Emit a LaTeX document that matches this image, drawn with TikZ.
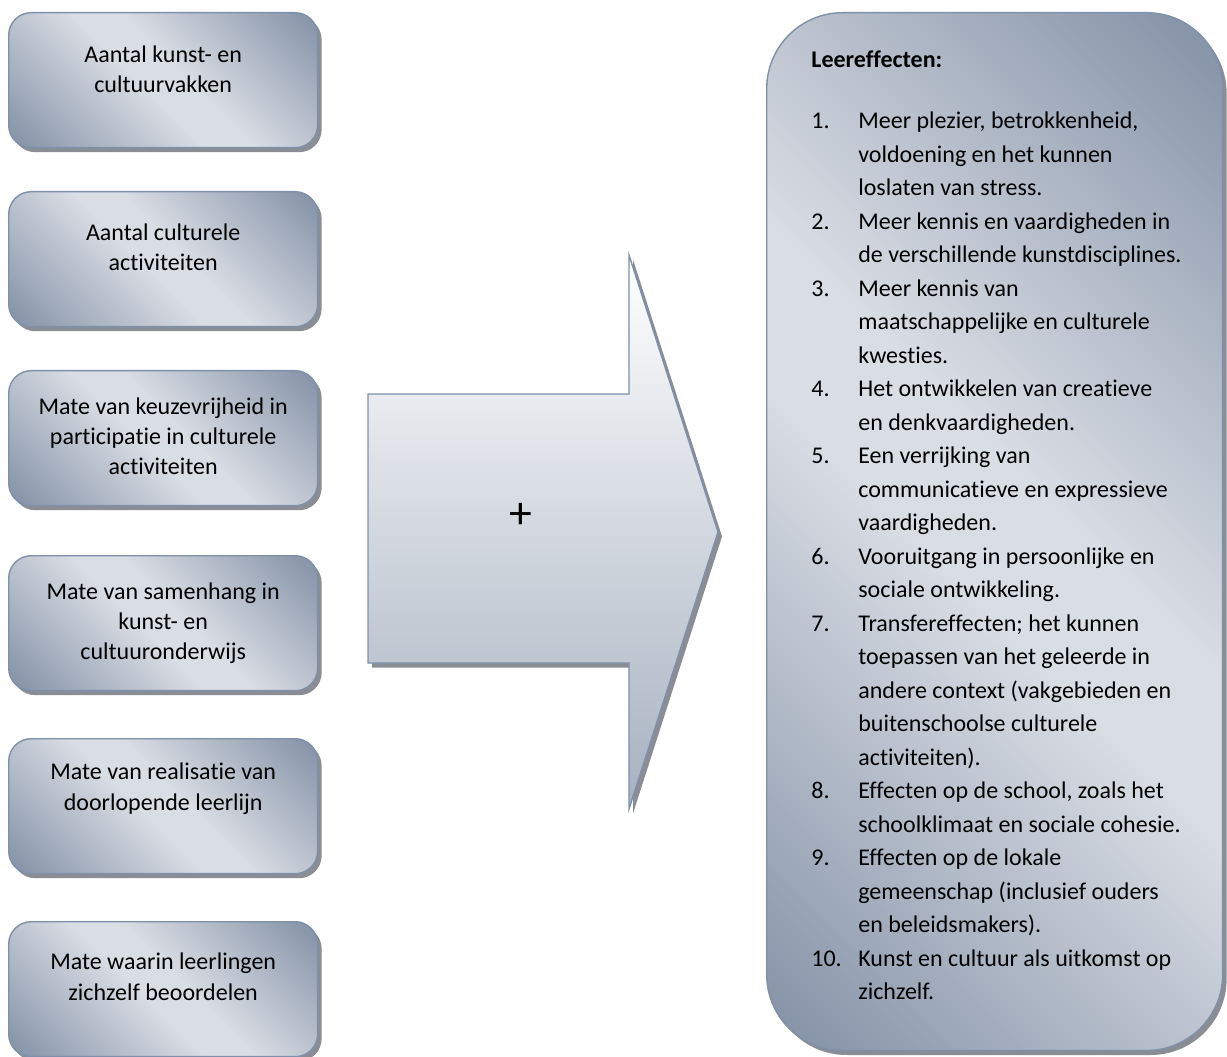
\documentclass[tikz,border=0pt]{standalone}
\usepackage{fontspec}
\setmainfont{Carlito}[Ligatures=NoCommon]
\usetikzlibrary{shadows}

\definecolor{boxdark}{RGB}{131,145,166}
\definecolor{boxlight}{RGB}{217,221,228}
\definecolor{boxline}{RGB}{126,144,170}
\definecolor{shadowgray}{RGB}{138,141,147}
\definecolor{arrowbottom}{RGB}{166,177,192}
\pgfdeclareverticalshading{boxshade}{100bp}{color(0bp)=(boxdark); color(15bp)=(boxdark);
  color(46bp)=(boxlight); color(54bp)=(boxlight); color(85bp)=(boxdark); color(100bp)=(boxdark)}

% #1 = afstand bovenrand tot eerste basislijn
\newcommand{\factortext}[2]{\parbox[c][2.7cm][t]{6.18cm}{\centering\rule{0pt}{#1}#2}}

\begin{document}
\begin{tikzpicture}[x=0.02cm,y=-0.02cm,
    font=\fontsize{13.66}{17.3}\selectfont,
    shadowed/.style={drop shadow={shadow xshift=0.08cm,shadow yshift=-0.09cm,fill=shadowgray,opacity=1}},
    factor/.style={draw=boxline,line width=0.8pt,rounded corners=0.45cm,shading=boxshade,
      shading angle=-45,inner sep=0pt,anchor=north west,shadowed},
    effectbox/.style={factor,minimum width=9.12cm,minimum height=20.76cm,rounded corners=1.52cm},
    pijl/.style={draw=boxline,line width=0.8pt,top color=white,bottom color=arrowbottom,shadowed}
  ]
  \fill[white] (0,0) rectangle (1227,1057);
  \useasboundingbox (0,0) rectangle (1227,1057);

  \foreach \nm/\ytop/\dy/\txt in {vakken/12/0.99cm/{Aantal kunst- en\\cultuurvakken},
      activiteiten/191/0.97cm/{Aantal culturele\\activiteiten},
      keuzevrijheid/370/0.87cm/{Mate van keuzevrijheid in\\participatie in culturele\\activiteiten},
      samenhang/555/0.87cm/{Mate van samenhang in\\kunst- en\\cultuuronderwijs},
      leerlijn/738/0.82cm/{Mate van realisatie van\\doorlopende leerlijn},
      beoordelen/921/0.96cm/{Mate waarin leerlingen\\zichzelf beoordelen}} {
    \node[factor] (\nm) at (8,\ytop) {\factortext{\dy}{\txt}};
  }

  \draw[pijl] (368,394) -- (629,394) -- (629,255) -- (718,532) -- (629,809) -- (629,663) -- (368,663) -- cycle;
  \node[font=\fontsize{26}{26}\selectfont] (plus) at (521,516) {+};

  \node[effectbox] (leereffecten) at (766,12) {};
  \node[anchor=base west,inner sep=0pt,font=\fontsize{13.66}{17.3}\selectfont\bfseries] (kop) at (811,68) {Leereffecten:};
  \node[anchor=base west,inner sep=0pt,font=\fontsize{13.66}{19.06}\selectfont] (lijst) at (811,129) {%
    \setlength{\tabcolsep}{0pt}%
    \begin{tabular}[t]{@{}p{0.94cm}l@{}}
      1. & Meer plezier, betrokkenheid,\\
         & voldoening en het kunnen\\
         & loslaten van stress.\\
      2. & Meer kennis en vaardigheden in\\
         & de verschillende kunstdisciplines.\\
      3. & Meer kennis van\\
         & maatschappelijke en culturele\\
         & kwesties.\\
      4. & Het ontwikkelen van creatieve\\
         & en denkvaardigheden.\\
      5. & Een verrijking van\\
         & communicatieve en expressieve\\
         & vaardigheden.\\
      6. & Vooruitgang in persoonlijke en\\
         & sociale ontwikkeling.\\
      7. & Transfereffecten; het kunnen\\
         & toepassen van het geleerde in\\
         & andere context (vakgebieden en\\
         & buitenschoolse culturele\\
         & activiteiten).\\
      8. & Effecten op de school, zoals het\\
         & schoolklimaat en sociale cohesie.\\
      9. & Effecten op de lokale\\
         & gemeenschap (inclusief ouders\\
         & en beleidsmakers).\\
      10. & Kunst en cultuur als uitkomst op\\
          & zichzelf.
    \end{tabular}};
\end{tikzpicture}
\end{document}
